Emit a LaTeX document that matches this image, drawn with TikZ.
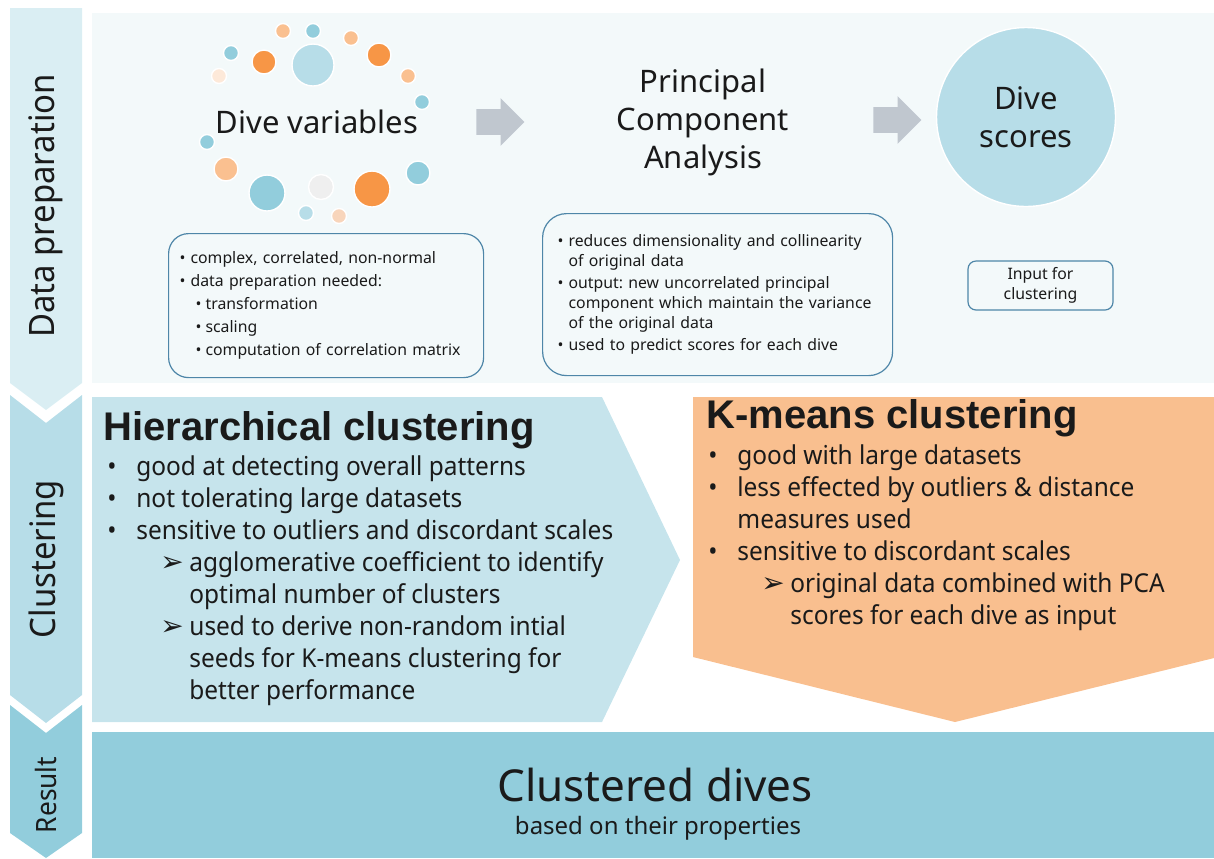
\documentclass[tikz,border=0pt]{standalone}
\usepackage{fontspec}
\setmainfont{Noto Sans}
\newfontfamily\narrowfont[FakeStretch=0.94]{Noto Sans}
\newfontfamily\titlefont{Liberation Sans}
\newfontfamily\dingfont{DejaVu Sans}
\usetikzlibrary{shapes.arrows}
\frenchspacing

\definecolor{prepbg}{HTML}{F3F9FA}
\definecolor{stepone}{HTML}{DAEEF3}
\definecolor{steptwo}{HTML}{B7DDE8}
\definecolor{stepthree}{HTML}{92CDDC}
\definecolor{hierfill}{HTML}{C6E4EC}
\definecolor{kmfill}{HTML}{F9BF8F}
\definecolor{dotorange}{HTML}{F79646}
\definecolor{dotpeach}{HTML}{FAC090}
\definecolor{dotpale}{HTML}{FDE9D9}
\definecolor{dotsand}{HTML}{F8D5BB}
\definecolor{dotblue}{HTML}{92CDDC}
\definecolor{dotlight}{HTML}{B7DDE8}
\definecolor{dotgray}{HTML}{EFEFEF}
\definecolor{boxline}{HTML}{4E86A8}
\definecolor{arrowgray}{HTML}{C0C7CF}
\definecolor{textdark}{HTML}{1A1A1A}

% list markers
\newcommand{\bul}{\makebox[14.5pt][l]{\textbullet}}
\newcommand{\bulcont}{\hspace*{14.5pt}}
\newcommand{\subarr}{\hspace*{26.5pt}\makebox[14.5pt][l]{{\dingfont\fontsize{14}{16}\selectfont\char"27A2}}}
\newcommand{\subcont}{\hspace*{41pt}}
\newcommand{\boxbul}{\makebox[5.5pt][l]{\textbullet}}
\newcommand{\boxsub}{\hspace*{8pt}\makebox[5pt][l]{\textbullet}}
\newcommand{\boxcont}{\hspace*{5.5pt}}

\begin{document}
\begin{tikzpicture}[x=0.5pt,y=-0.5pt]
    \tikzset{
        lbl/.style={rotate=90, text=textdark},
        dot/.style={draw=white, line width=0.7pt},
        blockarrow/.style={single arrow, fill=arrowgray, inner xsep=0pt, inner ysep=6.25pt, minimum height=24pt, minimum width=23.5pt, single arrow head extend=5.5pt},
        bigtext/.style={font=\fontsize{15.5}{19}\selectfont, align=center, text=textdark},
        infobox/.style={draw=boxline, line width=0.6pt, fill=prepbg, inner ysep=0pt, align=left, anchor=north west, text=textdark, font=\fontsize{7.9}{11.5}\selectfont},
        title/.style={font=\titlefont\bfseries\fontsize{20}{24}\selectfont, anchor=base west, inner sep=0pt, text=textdark},
        points/.style={font=\narrowfont\fontsize{13}{16}\selectfont, align=left, anchor=north west, inner sep=0pt, text=textdark}
    }
    \useasboundingbox (0,0) rectangle (1214,858);

    % stage chevrons
    \fill[stepone] (10,8) -- (82,8) -- (82,383) -- (46,410) -- (10,383) -- cycle;
    \fill[steptwo] (10,395) -- (46,423) -- (82,395) -- (82,695) -- (46,723) -- (10,695) -- cycle;
    \fill[stepthree] (10,705) -- (46,733) -- (82,705) -- (82,833) -- (46,858) -- (10,833) -- cycle;
    \node[lbl, font=\narrowfont\fontsize{17.5}{20}\selectfont] (prep) at (46,206) {Data preparation};
    \node[lbl, font=\narrowfont\fontsize{17.5}{20}\selectfont] (clus) at (46,559) {Clustering};
    \node[lbl, font=\narrowfont\fontsize{14}{16}\selectfont] (res) at (46,795) {Result};

    % panels
    \fill[prepbg] (92,13) rectangle (1214,383);
    \fill[hierfill] (92,397) -- (602,397) -- (680,560) -- (602,722) -- (92,722) -- cycle;
    \fill[kmfill] (693,397) -- (1214,397) -- (1214,658) -- (955,722) -- (693,657) -- cycle;
    \fill[stepthree] (92,732) rectangle (1214,858);

    % variables cloud
    \foreach \cx/\cy/\r/\col in {283/31/7.5/dotpeach, 313/31/7.5/dotblue, 351/38/7.5/dotpeach,
        379/55/12/dotorange, 313/65/21/dotlight, 264/62/12/dotorange, 231/53/7.5/dotblue,
        219/76/7.5/dotpale, 408/76/7.5/dotpeach, 422/102/7.5/dotblue, 207/142/7.5/dotblue,
        226/169/12/dotpeach, 267/193/18/dotblue, 321/187/12.5/dotgray, 372/189/18/dotorange,
        418/173/12/dotblue, 306/213/7.5/dotlight, 339/216/7.5/dotsand}
        \filldraw[dot, fill=\col] (\cx,\cy) circle[radius=\r*0.5pt];
    \node[bigtext] (vars) at (317,122) {Dive variables};
    \node[blockarrow] (arrA) at (494,122) {};
    \node[bigtext] (pca) at (703,122) {Principal\\Component\\Analysis};
    \node[blockarrow] (arrB) at (891,120) {};
    \node[circle, fill=steptwo, draw=white, line width=0.7pt, minimum size=89.5pt, bigtext] (scores) at (1026,117) {Dive\\scores};

    % notes
    \node[infobox, rounded corners=10pt, minimum height=72pt, text width=146.5pt, inner xsep=5.5pt] (varnote) at (168,233)
        {\boxbul complex, correlated, non-normal\\
         \boxbul data preparation needed:\\
         \boxsub transformation\\
         \boxsub scaling\\
         \boxsub computation of correlation matrix};
    \node[infobox, rounded corners=12pt, minimum height=81pt, text width=160pt, inner xsep=7.5pt, font=\fontsize{7.9}{10}\selectfont] (pcanote) at (542,213)
        {\boxbul reduces dimensionality and collinearity\\
         \boxcont of original data\\[1pt]
         \boxbul output: new uncorrelated principal\\
         \boxcont component which maintain the variance\\
         \boxcont of the original data\\[1pt]
         \boxbul used to predict scores for each dive};
    \node[infobox, rounded corners=4pt, anchor=center, align=center, minimum width=72.5pt, minimum height=24.5pt, font=\fontsize{7.9}{10}\selectfont] (input) at (1040.5,285.5) {Input for\\clustering};

    % clustering methods
    \node[title] (hier) at (103,440) {Hierarchical clustering};
    \node[points] (hierlist) at (107,455)
        {\bul good at detecting overall patterns\\
         \bul not tolerating large datasets\\
         \bul sensitive to outliers and discordant scales\\
         \subarr agglomerative coefficient to identify\\
         \subcont optimal number of clusters\\
         \subarr used to derive non-random intial\\
         \subcont seeds for K-means clustering for\\
         \subcont better performance};
    \node[title] (kmeans) at (706,428) {K-means clustering};
    \node[points] (kmlist) at (708,444)
        {\bul good with large datasets\\
         \bul less effected by outliers \& distance\\
         \bulcont measures used\\
         \bul sensitive to discordant scales\\
         \subarr original data combined with PCA\\
         \subcont scores for each dive as input};

    % outcome
    \node[font=\fontsize{22}{26}\selectfont, text=textdark] (clustered) at (655,785) {Clustered dives};
    \node[font=\fontsize{12}{14}\selectfont, text=textdark] (basis) at (658,828) {based on their properties};
\end{tikzpicture}
\end{document}
